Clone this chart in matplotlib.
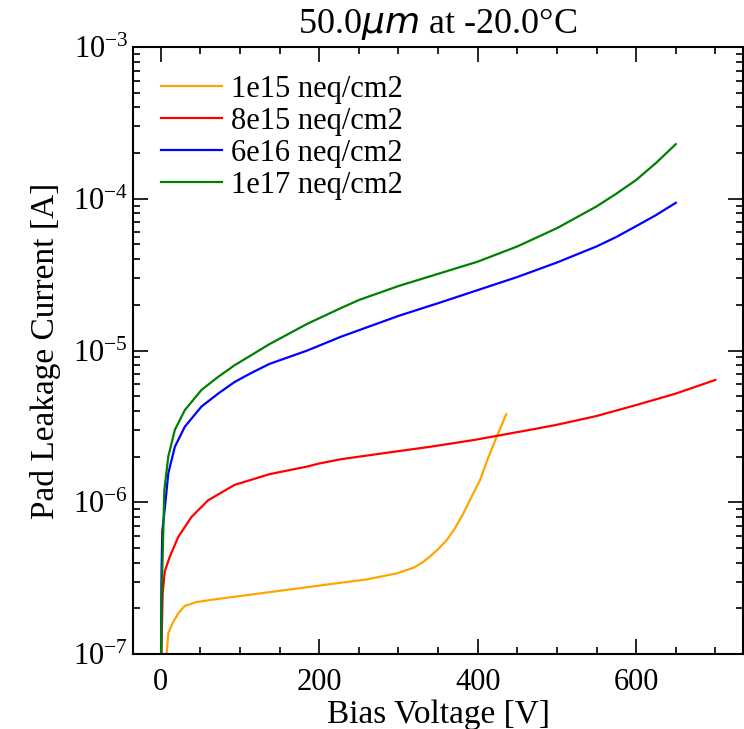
import matplotlib
matplotlib.use("Agg")
import matplotlib.pyplot as plt
from matplotlib.ticker import MultipleLocator, LogLocator

plt.rcParams['font.family'] = ['Liberation Serif', 'DejaVu Serif']

# IV scans, pad leakage current vs bias voltage
v_1e15 = [5, 7.4, 9.5, 15, 22, 30, 45, 68, 131, 206, 260, 298, 319, 330, 340, 350, 361, 371,
          382, 392, 403, 413, 424, 436]
i_1e15 = [3e-8, 1.0e-7, 1.37e-7, 1.6e-7, 1.85e-7, 2.07e-7, 2.2e-7, 2.29e-7, 2.53e-7, 2.85e-7,
          3.1e-7, 3.4e-7, 3.7e-7, 4.0e-7, 4.4e-7, 4.9e-7, 5.64e-7, 6.7e-7, 8.45e-7, 1.08e-6,
          1.4e-6, 1.95e-6, 2.7e-6, 3.8e-6]

v_8e15 = [0, 1, 2.4, 5, 11.6, 22, 38.8, 59.8, 93, 137, 185, 200, 227, 280, 340, 395, 466, 500,
          550, 600, 650, 700]
i_8e15 = [5e-8, 1.2e-7, 2.5e-7, 3.5e-7, 4.4e-7, 5.9e-7, 8.0e-7, 1.03e-6, 1.3e-6, 1.53e-6,
          1.72e-6, 1.8e-6, 1.92e-6, 2.1e-6, 2.32e-6, 2.57e-6, 3.0e-6, 3.24e-6, 3.7e-6, 4.37e-6,
          5.2e-6, 6.4e-6]

v_6e16 = [0, 1, 2, 5.3, 9.5, 17.8, 30.4, 51.4, 72.4, 93.2, 114, 137, 185, 227, 300, 350, 400,
          450, 500, 550, 575, 600, 625, 650]
i_6e16 = [5e-8, 3.5e-7, 6.5e-7, 9.3e-7, 1.55e-6, 2.32e-6, 3.15e-6, 4.27e-6, 5.2e-6, 6.2e-6,
          7.1e-6, 8.15e-6, 1.0e-5, 1.23e-5, 1.69e-5, 2.05e-5, 2.5e-5, 3.05e-5, 3.8e-5, 4.85e-5,
          5.6e-5, 6.6e-5, 7.8e-5, 9.4e-5]

v_1e17 = [0, 1, 2.4, 4.5, 9.5, 17.8, 30.4, 51.4, 72.4, 93.2, 114, 137, 185, 227, 250, 300, 350,
          400, 450, 500, 550, 575, 600, 625, 650]
i_1e17 = [5e-8, 2.5e-7, 4.4e-7, 1.2e-6, 2.0e-6, 3.0e-6, 4.05e-6, 5.5e-6, 6.7e-6, 8.0e-6,
          9.3e-6, 1.1e-5, 1.5e-5, 1.9e-5, 2.15e-5, 2.66e-5, 3.2e-5, 3.85e-5, 4.85e-5, 6.4e-5,
          8.9e-5, 1.08e-4, 1.33e-4, 1.72e-4, 2.29e-4]

fig = plt.figure(figsize=(7.44, 7.29), dpi=100)
ax = fig.add_axes([0.1788, 0.1029, 0.82, 0.8326])

ax.plot(v_1e15, i_1e15, color='orange', lw=1.6, label='1e15 neq/cm2')
ax.plot(v_8e15, i_8e15, color='red', lw=1.6, label='8e15 neq/cm2')
ax.plot(v_6e16, i_6e16, color='blue', lw=1.6, label='6e16 neq/cm2')
ax.plot(v_1e17, i_1e17, color='green', lw=1.6, label='1e17 neq/cm2')

ax.set_yscale('log')
ax.set_ylim(1e-7, 1e-3)
ax.set_xlim(-35, 735)
ax.xaxis.set_major_locator(MultipleLocator(200))
ax.xaxis.set_minor_locator(MultipleLocator(50))
ax.yaxis.set_minor_locator(LogLocator(base=10, subs=range(2, 10)))

ax.tick_params(which='both', direction='in', top=True, right=True, labelsize=22)
ax.tick_params(which='major', length=11, width=1.2)
ax.tick_params(which='minor', length=5, width=1.2)
ax.tick_params(axis='x', which='major', pad=10)
for s in ax.spines.values():
    s.set_linewidth(1.5)

ax.set_xlabel('Bias Voltage [V]', fontsize=24, labelpad=2)
ax.set_ylabel('Pad Leakage Current [A]', fontsize=24, labelpad=9)
ax.set_title(r'50.0$\mu m$ at -20.0°C', fontsize=26, pad=10)

ax.legend(loc='upper left', frameon=False, fontsize=22, handletextpad=0.3, labelspacing=0.1)

fig.savefig('out.png', dpi=100)
